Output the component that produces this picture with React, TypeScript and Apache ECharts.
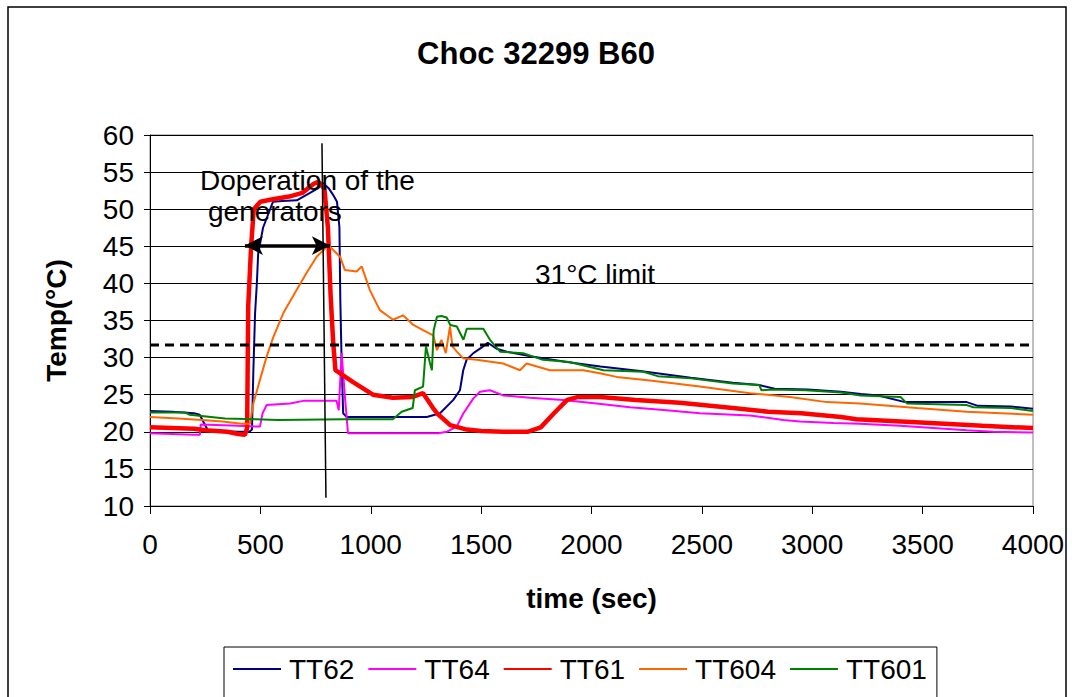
import React, { useEffect, useRef } from "react";
import * as echarts from "echarts";

const FONT = "'Liberation Sans', Arial, sans-serif";

const seriesNames = ["TT62", "TT64", "TT61", "TT604", "TT601"];
const seriesColors = ["#000080", "#FF00FF", "#FF0000", "#FF6600", "#008000"];
const seriesWidths = [2, 2, 4.5, 2, 2];

const tt62T = [0, 100, 200, 225, 262, 300, 400, 450, 462, 468, 476, 484, 490, 512, 557, 600, 665, 725, 760, 785, 810, 830, 847, 858, 862, 868, 875, 891, 1000, 1100, 1254, 1314, 1374, 1404, 1419, 1434, 1465, 1500, 1530, 1570, 1616, 1737, 1888, 2040, 2220, 2450, 2640, 2760, 2830, 2980, 3130, 3220, 3300, 3420, 3700, 3750, 3900, 4000];
const tt62V = [22.8, 22.7, 22.5, 22.3, 20.2, 20.1, 20.0, 20.0, 20.3, 28, 36, 40, 44, 47.5, 51, 51.1, 51.2, 52.2, 52.8, 53.5, 52.8, 51.9, 51, 47.6, 38, 29.5, 22.5, 22.0, 22.0, 22.0, 22.0, 22.5, 24.3, 25.6, 28.3, 29.7, 30.6, 31.3, 32, 31.2, 30.8, 30.1, 29.4, 28.8, 28.2, 27.3, 26.6, 26.3, 25.8, 25.7, 25.4, 25.1, 24.9, 24.0, 24.0, 23.5, 23.4, 23.1];

const tt64T = [0, 200, 226, 230, 400, 498, 510, 528, 634, 700, 845, 855, 868, 883, 897, 1000, 1200, 1306, 1344, 1389, 1420, 1465, 1495, 1540, 1600, 1721, 1872, 2023, 2174, 2340, 2491, 2718, 2869, 2944, 3095, 3216, 3398, 3700, 3820, 4000];
const tt64V = [19.8, 19.6, 19.6, 21.0, 20.8, 20.7, 22.5, 23.6, 23.8, 24.2, 24.2, 22.9, 30.6, 24.7, 19.8, 19.8, 19.8, 19.8, 20.0, 20.7, 22.5, 24.5, 25.4, 25.6, 24.9, 24.6, 24.3, 23.8, 23.3, 22.9, 22.5, 22.2, 21.6, 21.4, 21.2, 21.1, 20.8, 20.2, 20.0, 19.9];

const tt61T = [0, 100, 200, 250, 300, 350, 400, 430, 440, 445, 450, 458, 470, 500, 550, 630, 690, 740, 762, 790, 806, 818, 830, 840, 860, 920, 1010, 1100, 1190, 1237, 1280, 1300, 1360, 1435, 1500, 1600, 1710, 1770, 1830, 1890, 1940, 2040, 2200, 2400, 2640, 2800, 2950, 3130, 3200, 3470, 3770, 4000];
const tt61V = [20.6, 20.5, 20.4, 20.2, 20.1, 20.0, 19.7, 19.6, 20.5, 37, 40, 45, 50, 51, 51.3, 51.7, 52.2, 53.4, 53.7, 52.8, 47.5, 38.5, 32, 28.3, 27.9, 26.7, 25.0, 24.6, 24.7, 25.2, 23.3, 22.5, 20.9, 20.3, 20.1, 20.0, 20.0, 20.6, 22.5, 24.3, 24.7, 24.7, 24.3, 23.9, 23.2, 22.7, 22.5, 22.0, 21.7, 21.3, 20.8, 20.5];

const tt604T = [0, 127, 235, 327, 417, 453, 468, 498, 528, 559, 604, 664, 709, 755, 790, 808, 830, 861, 883, 936, 959, 996, 1041, 1101, 1146, 1193, 1237, 1283, 1300, 1320, 1340, 1359, 1370, 1390, 1419, 1480, 1600, 1676, 1706, 1812, 1963, 2038, 2114, 2265, 2491, 2718, 2899, 3066, 3216, 3474, 3700, 4000];
const tt604V = [22.0, 21.8, 21.6, 21.4, 21.1, 21.1, 23.8, 27.0, 30.1, 32.8, 36.0, 39.1, 41.4, 43.6, 44.6, 45.2, 44.5, 43.6, 41.8, 41.6, 42.3, 39.1, 36.4, 35.1, 35.7, 34.4, 33.7, 33.0, 31.0, 32.4, 30.6, 34.2, 31.5, 30.8, 29.9, 29.7, 29.2, 28.3, 29.2, 28.3, 28.3, 27.9, 27.4, 26.9, 26.1, 25.2, 24.7, 24.0, 23.8, 23.2, 22.7, 22.3];

const tt601T = [0, 160, 180, 340, 480, 580, 880, 1100, 1140, 1190, 1200, 1237, 1250, 1268, 1277, 1285, 1300, 1320, 1344, 1360, 1390, 1420, 1435, 1510, 1540, 1586, 1690, 1780, 1900, 2054, 2235, 2300, 2450, 2640, 2760, 2770, 2820, 2970, 3130, 3220, 3400, 3430, 3700, 3730, 3900, 4000];
const tt601V = [22.6, 22.6, 22.3, 21.8, 21.7, 21.6, 21.7, 21.7, 22.7, 23.2, 25.6, 26.1, 31.5, 29.3, 28.3, 33.7, 35.5, 35.6, 35.4, 34.4, 34.2, 32.4, 33.9, 33.9, 32.4, 30.8, 30.6, 29.7, 29.4, 28.3, 28.1, 27.5, 27.2, 26.5, 26.3, 25.6, 25.7, 25.6, 25.3, 24.9, 24.7, 23.8, 23.6, 23.3, 23.2, 22.8];

const limitValue = 31.7;
const limitT = [0, 4000];
const markerLineT = [779, 797];
const markerLineV = [58.9, 11.1];
const arrowT = [430, 815];
const arrowV = 45.1;

const xTicks = { min: 0, max: 4000, interval: 500 };
const yTicks = { min: 10, max: 60, interval: 5 };

const zip = (t: number[], v: number[]) => t.map((x, i) => [x, v[i]]);

export default function App() {
  const ref = useRef<HTMLDivElement>(null);
  useEffect(() => {
    if (!ref.current) return;
    const chart = echarts.init(ref.current, null, { renderer: "svg" });
    const tList = [tt62T, tt64T, tt61T, tt604T, tt601T];
    const vList = [tt62V, tt64V, tt61V, tt604V, tt601V];
    const dataSeries = seriesNames.map((name, i) => ({
      name,
      type: "line",
      data: zip(tList[i], vList[i]),
      symbol: "none",
      lineStyle: { color: seriesColors[i], width: seriesWidths[i] },
      itemStyle: { color: seriesColors[i] },
      z: 3,
    }));
    const option: any = {
      animation: false,
      backgroundColor: "#fff",
      textStyle: { fontFamily: FONT },
      title: {
        text: "Choc 32299 B60",
        left: "center",
        top: 33,
        textStyle: { fontFamily: FONT, fontSize: 31, fontWeight: "bold", color: "#000" },
      },
      legend: {
        data: seriesNames,
        left: 224,
        top: 647,
        orient: "horizontal",
        itemWidth: 48,
        itemHeight: 12,
        itemGap: 13,
        padding: [8, 10, 40, 8],
        borderColor: "#000",
        borderWidth: 1,
        itemStyle: { opacity: 0 },
        textStyle: { fontFamily: FONT, fontSize: 28, color: "#000", padding: [0, 0, 0, 3] },
      },
      grid: {
        left: 150,
        right: 39,
        top: 135,
        bottom: 191,
        show: true,
        borderColor: "#808080",
        borderWidth: 1,
      },
      xAxis: {
        type: "value",
        min: xTicks.min,
        max: xTicks.max,
        interval: xTicks.interval,
        axisLine: { show: true, lineStyle: { color: "#000", width: 1 } },
        axisTick: { show: true, length: 8, lineStyle: { color: "#000" } },
        axisLabel: { fontFamily: FONT, fontSize: 28, color: "#000", margin: 24, formatter: (v: number) => String(v) },
        splitLine: { show: false },
        name: "time (sec)",
        nameLocation: "middle",
        nameGap: 78,
        nameTextStyle: { fontFamily: FONT, fontSize: 28, fontWeight: "bold", color: "#000" },
      },
      yAxis: {
        type: "value",
        min: yTicks.min,
        max: yTicks.max,
        interval: yTicks.interval,
        axisLine: { show: true, lineStyle: { color: "#000", width: 1 } },
        axisTick: { show: true, length: 6, lineStyle: { color: "#000" } },
        axisLabel: { fontFamily: FONT, fontSize: 28, color: "#000", margin: 16 },
        splitLine: { show: true, lineStyle: { color: "#000", width: 1 } },
        name: "Temp(°C)",
        nameLocation: "middle",
        nameGap: 80,
        nameRotate: 90,
        nameTextStyle: { fontFamily: FONT, fontSize: 28, fontWeight: "bold", color: "#000" },
      },
      series: [
        ...dataSeries,
        {
          name: "limit",
          type: "line",
          data: limitT.map((t) => [t, limitValue]),
          symbol: "none",
          lineStyle: { color: "#000", width: 3, type: [9, 6] },
          z: 4,
        },
        {
          name: "marker",
          type: "line",
          data: zip(markerLineT, markerLineV),
          symbol: "none",
          lineStyle: { color: "#000", width: 1.5 },
          z: 5,
        },
        {
          name: "arrow",
          type: "line",
          data: [],
          markLine: {
            silent: true,
            symbol: ["arrow", "arrow"],
            symbolSize: [14, 18],
            label: { show: false },
            lineStyle: { color: "#000", width: 3.5, type: "solid" },
            data: [[{ coord: [arrowT[0], arrowV] }, { coord: [arrowT[1], arrowV] }]],
          },
          z: 6,
        },
      ],
      graphic: [
        {
          type: "rect",
          silent: true,
          shape: { x: 8, y: 7, width: 1058, height: 740 },
          style: { fill: "none", stroke: "#000", lineWidth: 1.5 },
          z: 0,
        },
        {
          type: "text",
          left: 200,
          top: 166,
          style: { text: "Doperation of the", fontFamily: FONT, fontSize: 28, fill: "#000" },
          z: 10,
        },
        {
          type: "text",
          left: 208,
          top: 197,
          style: { text: "generators", fontFamily: FONT, fontSize: 28, fill: "#000" },
          z: 10,
        },
        {
          type: "text",
          left: 535,
          top: 260,
          style: { text: "31°C limit", fontFamily: FONT, fontSize: 28, fill: "#000" },
          z: 10,
        },
      ],
    };
    chart.setOption(option);
    return () => chart.dispose();
  }, []);
  return (
    <div
      ref={ref}
      style={{ position: "fixed", left: 0, top: 0, width: 1072, height: 697, background: "#fff" }}
    />
  );
}
